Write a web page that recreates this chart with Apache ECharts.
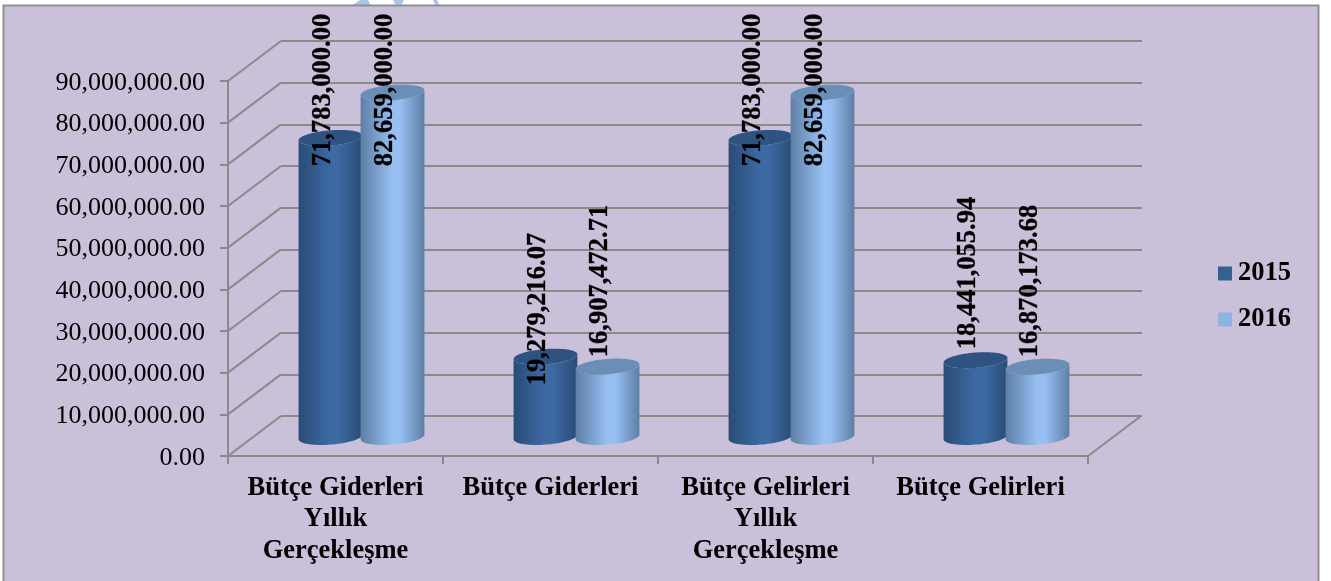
<!DOCTYPE html>
<html><head><meta charset="utf-8">
<style>html,body{margin:0;padding:0;background:#fff}#c{width:1331px;height:581px}</style>
<script src="https://cdn.jsdelivr.net/npm/echarts@6/dist/echarts.min.js"></script>
</head><body><div id="c"></div>
<script>
const categories = ['Bütçe Giderleri\nYıllık\nGerçekleşme', 'Bütçe Giderleri', 'Bütçe Gelirleri\nYıllık\nGerçekleşme', 'Bütçe Gelirleri'];
const years = ['2015', '2016'];
const values2015 = [71783000.00, 19279216.07, 71783000.00, 18441055.94];
const values2016 = [82659000.00, 16907472.71, 82659000.00, 16870173.68];
const yTicks = [0, 10000000, 20000000, 30000000, 40000000, 50000000, 60000000, 70000000, 80000000, 90000000];

// layout of the pseudo-3D picture (pixels)
const DEPTH_X = 53, DEPTH_Y = -40;
const BAR_W = 62, RX = 32, RY = 7.6, TILT = -4.5 * Math.PI / 180;
const LABEL_SIZE = 26.5, LABEL_DX = -7;
const labelCenterY2015 = [90, 309, 90, 273];
const labelCenterY2016 = [90, 281, 90, 281];

const fmt = v => v.toLocaleString('en-US', {minimumFractionDigits: 2, maximumFractionDigits: 2});
const LINE = '#8a8a8a', FONT = '"Liberation Serif","Times New Roman",serif';
const palette = [
  {edge: '#294c77', mid: '#3d6aa3', top: '#2f5380', swatch: '#35608f'},
  {edge: '#5d7fa6', mid: '#97bff2', top: '#6a8eb6', swatch: '#8db3e2'}
];

function ellipsePt(cx, cy, t) {
  return [cx + RX * Math.cos(t) * Math.cos(TILT) - RY * Math.sin(t) * Math.sin(TILT),
          cy + RX * Math.cos(t) * Math.sin(TILT) + RY * Math.sin(t) * Math.cos(TILT)];
}
function cylinderSeries(name, values, which) {
  return {
    name, type: 'custom', xAxisIndex: 2, yAxisIndex: 2, z: 5 + which,
    itemStyle: {color: palette[which].swatch},
    data: values.map((v, i) => [i, v]),
    renderItem(params, api) {
      const i = api.value(0), val = api.value(1), c = palette[which];
      const x0 = api.coord([i, 0])[0] + (which === 0 ? -BAR_W / 2 : BAR_W / 2);
      const yB = api.coord([i, 0])[1], yT = api.coord([i, val])[1];
      const t0 = Math.atan2(-RY * Math.sin(TILT), RX * Math.cos(TILT));
      const pts = [], top = [];
      for (let k = 0; k <= 40; k++) pts.push(ellipsePt(x0, yB, t0 + Math.PI * k / 40));
      for (let k = 0; k <= 40; k++) pts.push(ellipsePt(x0, yT, t0 + Math.PI - Math.PI * k / 40));
      for (let k = 0; k < 80; k++) top.push(ellipsePt(x0, yT, 2 * Math.PI * k / 80));
      const grad = new echarts.graphic.LinearGradient(0, 0, 1, 0, [
        {offset: 0, color: c.edge}, {offset: 0.5, color: c.mid}, {offset: 0.62, color: c.mid}, {offset: 1, color: c.edge}]);
      return {type: 'group', children: [
        {type: 'polygon', shape: {points: pts}, style: {fill: grad}},
        {type: 'polygon', shape: {points: top}, style: {fill: c.top}}
      ]};
    }
  };
}
function labelSeries(values, centersY, which) {
  return {
    type: 'custom', xAxisIndex: 2, yAxisIndex: 2, z: 20, silent: true,
    data: values.map((v, i) => [i, v]),
    renderItem(params, api) {
      const i = api.value(0), val = api.value(1);
      const x0 = api.coord([i, 0])[0] + (which === 0 ? -BAR_W / 2 : BAR_W / 2) + LABEL_DX;
      return {type: 'text', x: x0, y: centersY[i], rotation: Math.PI / 2,
        style: {text: fmt(val), fill: '#000', stroke: '#000', lineWidth: 0.3,
          font: `bold ${LABEL_SIZE}px ${FONT}`, textAlign: 'center', textVerticalAlign: 'middle'}};
    }
  };
}
const depthLines = {
  type: 'custom', xAxisIndex: 0, yAxisIndex: 0, z: 2, silent: true,
  data: yTicks.map(v => [0, v]),
  renderItem(params, api) {
    const y = api.coord([0, api.value(1)])[1], x = params.coordSys.x;
    const children = [{type: 'line', shape: {x1: x, y1: y, x2: x + DEPTH_X, y2: y + DEPTH_Y}, style: {stroke: LINE, lineWidth: 2}}];
    if (api.value(1) === 0) {
      const xr = x + params.coordSys.width;
      children.push({type: 'line', shape: {x1: xr, y1: y, x2: xr + DEPTH_X, y2: y + DEPTH_Y}, style: {stroke: LINE, lineWidth: 2}});
    }
    return {type: 'group', children};
  }
};
const yBase = {type: 'value', min: 0, max: 90000000, interval: 10000000};
const xBase = {type: 'category', data: categories};
const option = {
  animation: false,
  backgroundColor: '#fff',
  graphic: [
    {type: 'polygon', z: -11, shape: {points: [[351, 6], [360, 0], [368, 0], [371, 6]]}, style: {fill: '#a9c6e8'}},
    {type: 'polygon', z: -11, shape: {points: [[393, 0], [404, 0], [401, 6], [396, 6]]}, style: {fill: '#a9c6e8'}},
    {type: 'polygon', z: -11, shape: {points: [[433, 0], [437, 0], [440, 6], [436, 6]]}, style: {fill: '#a9c6e8'}},
    {type: 'rect', z: -10, shape: {x: 3.5, y: 5.5, width: 1315, height: 580}, style: {fill: '#cac0da', stroke: '#8f8f8f', lineWidth: 2}}
  ],
  legend: {
    orient: 'vertical', left: 1218, top: 260, itemWidth: 14, itemHeight: 14, itemGap: 19,
    data: years.map(n => ({name: n, icon: 'rect'})),
    textStyle: {fontFamily: FONT, fontWeight: 'bold', fontSize: 26.5, color: '#000', padding: [0, 0, 0, 1]},
    selectedMode: false, padding: 0
  },
  grid: [
    {left: 228, right: 243, top: 81, bottom: 125},
    {left: 281, right: 189, top: 41, bottom: 165},
    {left: 254, right: 217, top: 62, bottom: 144},
    {left: 228, right: 243, top: 83, bottom: 123}
  ],
  xAxis: [
    {...xBase, gridIndex: 0, z: 3,
      axisLine: {lineStyle: {color: LINE, width: 2}}, axisTick: {show: true, alignWithLabel: false, length: 8, lineStyle: {color: LINE, width: 2}},
      axisLabel: {interval: 0, color: '#000', fontFamily: FONT, fontWeight: 'bold', fontSize: 26.5, lineHeight: 31.5, margin: 16}},
    {...xBase, gridIndex: 1, show: false},
    {...xBase, gridIndex: 2, show: false},
    {...xBase, gridIndex: 3, show: false}
  ],
  yAxis: [
    {...yBase, gridIndex: 0, z: 3, splitLine: {show: false},
      axisLine: {show: true, lineStyle: {color: LINE, width: 2}}, axisTick: {show: true, length: 8, lineStyle: {color: LINE, width: 2}},
      axisLabel: {show: false}},
    {...yBase, gridIndex: 1, axisLine: {show: false}, axisTick: {show: false}, axisLabel: {show: false},
      splitLine: {show: true, lineStyle: {color: LINE, width: 2}}},
    {...yBase, gridIndex: 2, show: false, splitLine: {show: false}},
    {...yBase, gridIndex: 3, splitLine: {show: false}, axisLine: {show: false}, axisTick: {show: false},
      axisLabel: {color: '#000', fontFamily: FONT, fontSize: 26, margin: 23, formatter: v => fmt(v)}}
  ],
  series: [
    depthLines,
    cylinderSeries(years[0], values2015, 0),
    cylinderSeries(years[1], values2016, 1),
    labelSeries(values2015, labelCenterY2015, 0),
    labelSeries(values2016, labelCenterY2016, 1)
  ]
};
echarts.init(document.getElementById('c'), null, {renderer: 'canvas'}).setOption(option);
</script></body></html>
